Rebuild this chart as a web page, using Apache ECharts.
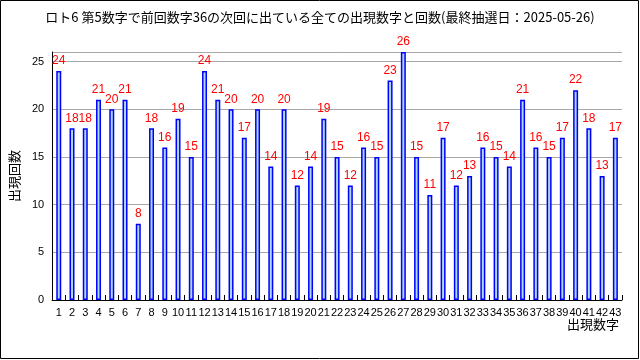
<!DOCTYPE html>
<html><head><meta charset="utf-8">
<script src="https://cdn.jsdelivr.net/npm/echarts@6/dist/echarts.min.js"></script>
<style>html,body{margin:0;padding:0;background:#fff}#c{width:640px;height:360px}</style>
</head><body><div id="c"></div>
<script>
const titleText = 'ロト6 第5数字で前回数字36の次回に出ている全ての出現数字と回数(最終抽選日：2025-05-26)';
const categories = ['1','2','3','4','5','6','7','8','9','10','11','12','13','14','15','16','17','18','19','20','21','22','23','24','25','26','27','28','29','30','31','32','33','34','35','36','37','38','39','40','41','42','43'];
const counts = [24,18,18,21,20,21,8,18,16,19,15,24,21,20,17,20,14,20,12,14,19,15,12,16,15,23,26,15,11,17,12,13,16,15,14,21,16,15,17,22,18,13,17];
const yMax = 26;

const chart = echarts.init(document.getElementById('c'), null, {renderer:'canvas'});
chart.setOption({
  animation:false,
  backgroundColor:'#fff',
  title:{text:titleText,left:'center',top:6,textStyle:{fontFamily:'Noto Sans CJK JP',fontSize:13,fontWeight:'normal',color:'#000'}},
  grid:{left:40,right:18,top:52,bottom:60,containLabel:false},
  graphic:[{type:'rect',z:100,shape:{x:0.5,y:0.5,width:638,height:358},style:{fill:'none',stroke:'#000',lineWidth:1},silent:true}],
  xAxis:{type:'category',data:categories,boundaryGap:true,
    name:'出現数字',nameLocation:'end',nameGap:-3,
    nameTextStyle:{fontFamily:'Noto Sans CJK JP',fontSize:13,color:'#000',align:'right',verticalAlign:'top',padding:[18,0,0,0]},
    axisLine:{lineStyle:{color:'#000',width:1}},
    axisTick:{show:true,inside:true,length:5,alignWithLabel:false,lineStyle:{color:'#000'}},
    axisLabel:{interval:0,margin:7,fontFamily:'Liberation Sans',fontSize:11,color:'#000'},
    splitLine:{show:false}},
  yAxis:{type:'value',min:0,max:yMax,interval:5,
    name:'出現回数',nameLocation:'middle',nameGap:30,
    nameTextStyle:{fontFamily:'Noto Sans CJK JP',fontSize:13,color:'#000'},
    axisLine:{show:true,lineStyle:{color:'#000',width:1}},
    axisTick:{show:false},
    axisLabel:{showMaxLabel:false,margin:8,fontFamily:'Liberation Sans',fontSize:11,color:'#000'},
    splitLine:{show:true,lineStyle:{color:'#a8a8a8',width:1,type:'solid'}}},
  series:[{type:'bar',data:counts,barWidth:5,
    itemStyle:{color:'#add8e6',borderColor:'#0000ff',borderWidth:1.5},
    label:{show:true,position:'top',distance:4,color:'#ff0000',fontFamily:'Liberation Sans',fontSize:12},
    z:2}]
});
</script></body></html>
